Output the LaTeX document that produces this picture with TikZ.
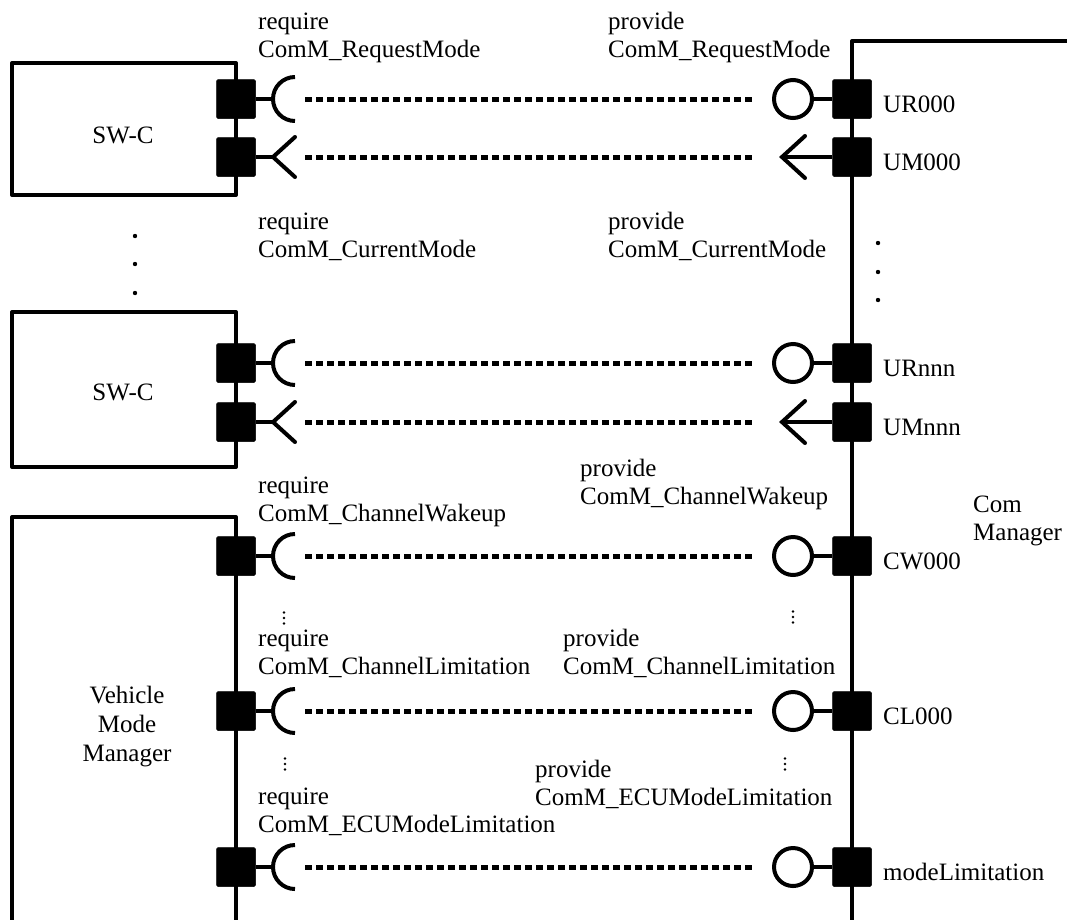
\documentclass[tikz,border=0pt]{standalone}
\usepackage{fontspec}
\setmainfont{Liberation Serif}
\begin{document}
\begin{tikzpicture}[x=1pt,y=-1pt,
  font=\fontsize{25}{28}\selectfont,
  box/.style={line width=4pt, line join=round},
  port/.style={fill=black, draw=black, line width=0.5pt, rounded corners=1.5pt, minimum width=39pt, minimum height=39pt, inner sep=0pt},
  stick/.style={line width=3.5pt},
  ifc/.style={line width=4pt},
  ball/.style={circle, draw=black, line width=4pt, minimum size=38pt, inner sep=0pt},
  link/.style={line width=5pt, dash pattern=on 7pt off 4pt},
  lbl/.style={anchor=base west, inner sep=0pt},
  clbl/.style={anchor=base, inner sep=0pt},
  pt/.style={circle, fill=black, inner sep=0pt, minimum size=4.4pt},
  vpt/.style={circle, fill=black, inner sep=0pt, minimum size=2.6pt}]

\useasboundingbox (0,0) rectangle (1067,919);
\clip (0,0) rectangle (1067,919);

% component boxes
\draw[box] (12,63) rectangle (236,195);
\draw[box] (12,312) rectangle (236,467);
\draw[box] (12,930) -- (12,517) -- (236,517) -- (236,930);
\draw[box] (1080,41) -- (852,41) -- (852,930);

% client/server rows
\foreach \y/\n in {99/a,363/b,556/c,711/d,867/e}{
  \node[port] (L\n) at (236,\y) {};
  \node[port] (R\n) at (852,\y) {};
  \coordinate (S\n) at (273,\y);
  \draw[stick] (L\n.east) -- (S\n);
  \draw[ifc] (295,\y-22) arc[start angle=270, end angle=90, radius=22];
  \node[ball] (C\n) at (793,\y) {};
  \draw[stick] (C\n.east) -- (R\n.west);
  \coordinate (A\n) at (305,\y);
  \coordinate (B\n) at (755,\y);
  \draw[link] (A\n) -- (B\n);
}

% mode rows
\foreach \y/\n in {157/f,422/g}{
  \node[port] (L\n) at (236,\y) {};
  \node[port] (R\n) at (852,\y) {};
  \coordinate (V\n) at (273,\y);
  \draw[stick] (L\n.east) -- (V\n);
  \draw[ifc, line cap=round] (295,\y-20) -- (V\n) -- (295,\y+20);
  \coordinate (T\n) at (782,\y);
  \draw[stick] (R\n.west) -- (T\n);
  \draw[ifc, line cap=round] (805,\y-21) -- (T\n) -- (805,\y+21);
  \coordinate (A\n) at (305,\y);
  \coordinate (B\n) at (755,\y);
  \draw[link] (A\n) -- (B\n);
}

% port labels
\node[lbl] (t1) at (883,112) {UR000};
\node[lbl] (t2) at (883,170) {UM000};
\node[lbl] (t3) at (883,376) {URnnn};
\node[lbl] (t4) at (883,435) {UMnnn};
\node[lbl] (t5) at (883,569) {CW000};
\node[lbl] (t6) at (883,724) {CL000};
\node[lbl] (t7) at (883,880) {modeLimitation};

% interface labels
\node[lbl] (q1a) at (258,29) {require};
\node[lbl] (q1b) at (258,57) {ComM\_RequestMode};
\node[lbl] (p1a) at (608,29) {provide};
\node[lbl] (p1b) at (608,57) {ComM\_RequestMode};
\node[lbl] (q2a) at (258,229) {require};
\node[lbl] (q2b) at (258,257) {ComM\_CurrentMode};
\node[lbl] (p2a) at (608,229) {provide};
\node[lbl] (p2b) at (608,257) {ComM\_CurrentMode};
\node[lbl] (q3a) at (258,493) {require};
\node[lbl] (q3b) at (258,521) {ComM\_ChannelWakeup};
\node[lbl] (p3a) at (580,476) {provide};
\node[lbl] (p3b) at (580,504) {ComM\_ChannelWakeup};
\node[lbl] (q4a) at (258,646) {require};
\node[lbl] (q4b) at (258,674) {ComM\_ChannelLimitation};
\node[lbl] (p4a) at (563,646) {provide};
\node[lbl] (p4b) at (563,674) {ComM\_ChannelLimitation};
\node[lbl] (p5a) at (535,777) {provide};
\node[lbl] (p5b) at (535,805) {ComM\_ECUModeLimitation};
\node[lbl] (q5a) at (258,804) {require};
\node[lbl] (q5b) at (258,832) {ComM\_ECUModeLimitation};

% component names
\node[clbl] (sw1) at (123,143) {SW-C};
\node[clbl] (sw2) at (123,400) {SW-C};
\node[clbl] (vm1) at (127,703) {Vehicle};
\node[clbl] (vm2) at (127,732) {Mode};
\node[clbl] (vm3) at (127,761) {Manager};
\node[lbl] (cm1) at (973,512) {Com};
\node[lbl] (cm2) at (973,540) {Manager};

% ellipsis dots
\foreach \y in {236,264,293}{\node[pt] at (135,\y) {};}
\foreach \y in {243,272,300}{\node[pt] at (878,\y) {};}
\foreach \x/\y in {284/618,793/617,285/764,785/764}{
  \foreach \d in {-5.5,0,5.5}{\node[vpt] at (\x,\y+\d) {};}
}
\end{tikzpicture}
\end{document}
